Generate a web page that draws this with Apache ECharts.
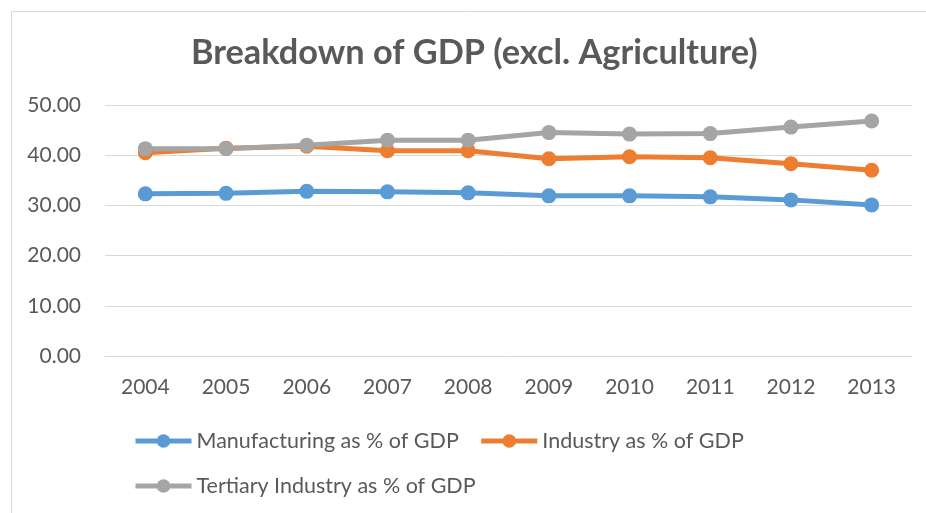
<!DOCTYPE html>
<html>
<head>
<meta charset="utf-8">
<script src="https://cdn.jsdelivr.net/npm/echarts@6/dist/echarts.min.js"></script>
<style>
  html, body { margin: 0; padding: 0; background: #fff; }
  #chart { width: 926px; height: 513px; }
</style>
</head>
<body>
<div id="chart"></div>
<script>
// Years on the category axis
const years = ['2004', '2005', '2006', '2007', '2008', '2009', '2010', '2011', '2012', '2013'];

// Shares of GDP (%), excluding agriculture
const manufacturing = [32.3, 32.4, 32.8, 32.7, 32.5, 31.9, 31.9, 31.7, 31.1, 30.1];
const industry      = [40.5, 41.4, 41.8, 40.9, 40.9, 39.3, 39.7, 39.5, 38.3, 37.0];
const tertiary      = [41.3, 41.3, 42.0, 43.0, 43.0, 44.5, 44.2, 44.3, 45.6, 46.8];

const seriesNames = [
  'Manufacturing as % of GDP',
  'Industry as % of GDP',
  'Tertiary Industry as % of GDP'
];
const colors = ['#5B9BD5', '#ED7D31', '#A5A5A5'];

const FONT = 'Lato, "Open Sans", sans-serif';
const TEXT = '#595959';

function lineSeries(name, data, color) {
  return {
    name: name,
    type: 'line',
    data: data,
    symbol: 'circle',
    symbolSize: 15,
    lineStyle: { width: 5, color: color },
    itemStyle: { color: color },
    emphasis: { disabled: true }
  };
}

const legendBase = {
  left: 133,
  padding: 0,
  itemWidth: 56,
  itemHeight: 17,
  itemGap: 20,
  lineStyle: { width: 5 },
  textStyle: { fontFamily: FONT, fontSize: 21.5, color: TEXT }
};

const chart = echarts.init(document.getElementById('chart'));
chart.setOption({
  animation: false,
  backgroundColor: '#fff',
  title: {
    text: 'Breakdown of GDP (excl. Agriculture)',
    left: 186,
    top: 31,
    textStyle: { fontFamily: FONT, fontSize: 34.3, fontWeight: 'bold', color: TEXT }
  },
  graphic: [{
    type: 'rect',
    shape: { x: 11.5, y: 11.5, width: 960, height: 540 },
    style: { fill: 'none', stroke: '#D9D9D9', lineWidth: 1 },
    silent: true
  }],
  legend: [
    Object.assign({}, legendBase, { data: [seriesNames[0], seriesNames[1]], top: 430 }),
    Object.assign({}, legendBase, { data: [seriesNames[2]], top: 475 })
  ],
  grid: { left: 105, right: 14, top: 105, bottom: 157 },
  xAxis: {
    type: 'category',
    data: years,
    boundaryGap: true,
    axisLine: { lineStyle: { color: '#D9D9D9', width: 1 } },
    axisTick: { show: false },
    axisLabel: { fontFamily: FONT, fontSize: 21, color: TEXT, margin: 21 }
  },
  yAxis: {
    type: 'value',
    min: 0,
    max: 50,
    interval: 10,
    axisLine: { show: false },
    axisTick: { show: false },
    splitLine: { lineStyle: { color: '#D9D9D9', width: 1 } },
    axisLabel: {
      fontFamily: FONT, fontSize: 21, color: TEXT, margin: 24,
      formatter: v => v.toFixed(2)
    }
  },
  series: [
    lineSeries(seriesNames[0], manufacturing, colors[0]),
    lineSeries(seriesNames[1], industry, colors[1]),
    lineSeries(seriesNames[2], tertiary, colors[2])
  ]
});
</script>
</body>
</html>
